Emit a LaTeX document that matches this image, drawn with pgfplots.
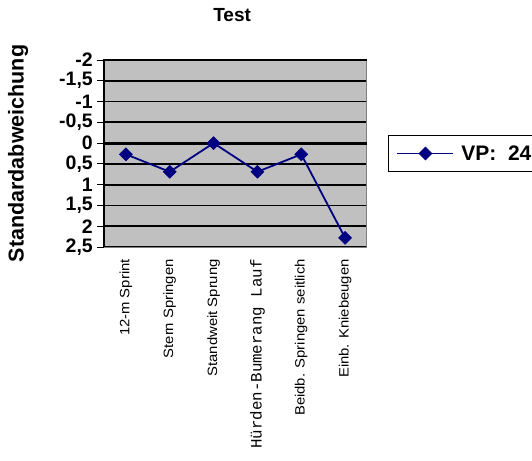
\documentclass[border=0pt]{standalone}
\usepackage{pgfplots}
\pgfplotsset{compat=1.18}
\usepackage{fontspec}
\setmainfont{Liberation Sans}
\newfontfamily\monofont{Liberation Mono}
\newfontfamily\longfont[FakeStretch=1.1]{Liberation Sans}
\definecolor{navy}{HTML}{000080}
\definecolor{plotgray}{HTML}{C0C0C0}
\definecolor{bordergray}{HTML}{808080}
\begin{document}
\begin{tikzpicture}
\useasboundingbox (0,0) rectangle (532pt,460pt);
\begin{axis}[
  at={(104pt,213pt)}, anchor=south west,
  scale only axis, width=263pt, height=187pt,
  xmin=-0.5, xmax=5.5, ymin=-2, ymax=2.5, y dir=reverse,
  axis background/.style={fill=plotgray},
  axis line style={draw=bordergray, line width=1pt},
  xtick={0,1,2,3,4,5},
  xticklabels={12-m Sprint, Stern Springen, Standweit Sprung, {\monofont\fontsize{15.8}{16}\selectfont Hürden-Bumerang Lauf}, Beidb. Springen seitlich, Einb. Kniebeugen},
  xtick style={draw=none},
  xticklabel style={font=\longfont\fontsize{13.5}{14}\selectfont, yshift=-5pt, rotate=90, anchor=east, inner sep=0pt},
  ytick={-2,-1.5,...,2.5},
  yticklabels={-2,{-1,5},-1,{-0,5},0,{0,5},1,{1,5},2,{2,5}},
  ytick pos=left, tick align=outside, major tick length=7pt,
  ytick style={draw=black, line width=1pt},
  yticklabel style={font=\bfseries\fontsize{19.5}{19}\selectfont, inner sep=0pt, xshift=-4pt},
  ymajorgrids, grid style={draw=black, line width=1.7pt},
  extra y ticks={0}, extra y tick labels={},
  extra y tick style={grid style={draw=black, line width=3pt}, major tick length=0pt},
  ylabel={Standardabweichung},
  ylabel style={font=\bfseries\fontsize{21.5}{22}\selectfont, at={(axis description cs:-0.327,0.5)}, anchor=center},
  title={Test},
  title style={font=\bfseries\fontsize{19}{20}\selectfont, at={(axis description cs:0.487,1)}, anchor=center, yshift=39pt},
  legend style={at={(axis description cs:1.08,0.5)}, anchor=west, draw=black, line width=1pt, fill=white,
    font=\bfseries\fontsize{21}{22}\selectfont, inner ysep=8pt, inner xsep=8pt},
  legend image code/.code={\draw[mark repeat=2,mark phase=2] plot coordinates {(0pt,0pt) (28pt,0pt) (56pt,0pt)};},
  clip=false,
]
\addplot[color=navy, line width=1.8pt, mark=square*, mark size=4.6pt, mark options={rotate=45, fill=navy, draw=navy, line width=0.5pt}]
  coordinates {(0,0.27) (1,0.69) (2,0.0) (3,0.69) (4,0.27) (5,2.28)};
\addlegendentry{\hspace{5pt}VP:\ \ 24}
\draw[black, line width=1.5pt] (rel axis cs:0,0) -- (rel axis cs:0,1) -- (rel axis cs:1,1);
\end{axis}
\end{tikzpicture}
\end{document}
